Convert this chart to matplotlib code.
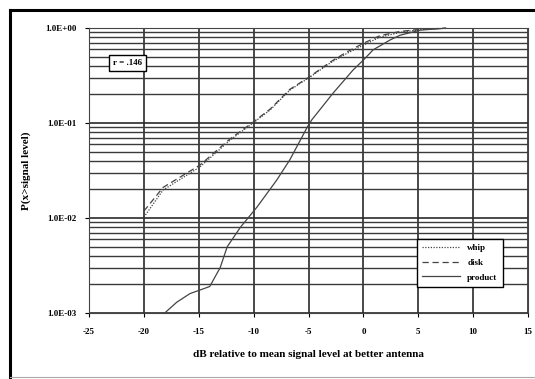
import numpy as np
import matplotlib
matplotlib.use("Agg")
import matplotlib.pyplot as plt
from matplotlib.ticker import FixedLocator, LogLocator, NullFormatter

# data (dB, probability)
x_whip = [-20.0, -18.25, -14.9, -12.15, -10.05, -8.5, -6.7, -4.85, -3.0, -1.5, 0.0, 1.5, 3.35, 5.2, 7.5]
y_whip = [0.0102, 0.0197, 0.0344, 0.066, 0.10, 0.137, 0.222, 0.305, 0.43, 0.54, 0.66, 0.80, 0.90, 0.96, 0.995]
x_disk = [-20.0, -18.25, -14.9, -12.15, -10.05, -8.5, -6.7, -4.85, -3.0, -1.5, 0.0, 1.5, 3.35, 5.2, 7.5]
y_disk = [0.0118, 0.021, 0.036, 0.068, 0.102, 0.14, 0.226, 0.31, 0.44, 0.56, 0.69, 0.83, 0.92, 0.97, 0.995]
x_prod = [-18.1, -17.0, -15.8, -14.0, -13.05, -12.4, -11.2, -9.7, -7.9, -6.7, -5.1, -4.7, -2.75, -0.95, 0.0, 0.9, 2.45, 3.35, 5.2, 7.5]
y_prod = [0.001, 0.0013, 0.0016, 0.0019, 0.003, 0.005, 0.008, 0.013, 0.025, 0.041, 0.091, 0.108, 0.207, 0.36, 0.46, 0.59, 0.75, 0.84, 0.95, 0.995]

x_ticks = [-25, -20, -15, -10, -5, 0, 5, 10, 15]
y_ticks = [1e-3, 1e-2, 1e-1, 1e0]
y_tick_labels = ["1.0E-03", "1.0E-02", "1.0E-01", "1.0E+00"]

plt.rcParams['font.family'] = ['Liberation Serif', 'DejaVu Serif']
plt.rcParams['font.weight'] = 'bold'

fig = plt.figure(figsize=(5.35, 3.79), dpi=100)
ax = fig.add_axes([89/535, 1-313/379, 439/535, 285/379])

# outer frame of the figure
fig.add_artist(plt.Line2D([10/535, 10/535], [0.0, 1-10/379], color='black', lw=2.2, transform=fig.transFigure))
fig.add_artist(plt.Line2D([10/535, 1.0], [1-10/379, 1-10/379], color='black', lw=2.2, transform=fig.transFigure))
fig.add_artist(plt.Line2D([10/535, 1.0], [2/379, 2/379], color='#aaaaaa', lw=0.8, transform=fig.transFigure))

ax.set_yscale('log')
ax.set_xlim(-25, 15)
ax.set_ylim(1e-3, 1.0)

ax.plot(x_whip, y_whip, color='#444444', lw=0.9, linestyle=(0, (1, 1.2)), label='whip', clip_on=False)
ax.plot(x_disk, y_disk, color='#444444', lw=0.9, linestyle=(0, (5, 3)), label='disk', clip_on=False)
ax.plot(x_prod, y_prod, color='#444444', lw=0.9, linestyle='-', label='product', clip_on=False)

ax.xaxis.set_major_locator(FixedLocator(x_ticks))
ax.set_xticklabels([str(t) for t in x_ticks], fontsize=6.5, fontweight='bold')
ax.yaxis.set_major_locator(FixedLocator(y_ticks))
ax.set_yticklabels(y_tick_labels, fontsize=6.5, fontweight='bold')
ax.yaxis.set_minor_locator(LogLocator(base=10, subs=np.arange(2, 10)))
ax.yaxis.set_minor_formatter(NullFormatter())

ax.grid(True, which='major', axis='both', color='#2a2a2a', lw=1.2)
ax.grid(True, which='minor', axis='y', color='#3a3a3a', lw=1.0)
ax.tick_params(axis='both', which='major', length=3, width=0.8, direction='out', pad=6)
ax.tick_params(axis='y', which='minor', length=0)
ax.tick_params(axis='x', length=3, pad=8)
for s in ax.spines.values():
    s.set_color('#444444')
    s.set_linewidth(0.8)

ax.set_xlabel('dB relative to mean signal level at better antenna', fontsize=8, fontweight='bold', labelpad=10)
ax.set_ylabel('P(x>signal level)', fontsize=8, fontweight='bold', labelpad=10)

ax.text(0.087, 0.877, 'r = .146', transform=ax.transAxes, fontsize=6.5, fontweight='bold',
        ha='center', va='center',
        bbox=dict(boxstyle='square,pad=0.45', facecolor='white', edgecolor='black', lw=1.0))

leg = ax.legend(loc='lower right', bbox_to_anchor=(0.943, 0.091), fontsize=6.5, frameon=True,
                fancybox=False, edgecolor='black', framealpha=1, handlelength=4.2,
                borderpad=0.6, labelspacing=0.7, borderaxespad=0)
leg.get_frame().set_linewidth(1.0)
leg.set_zorder(5)

fig.savefig('out.png', dpi=100)
